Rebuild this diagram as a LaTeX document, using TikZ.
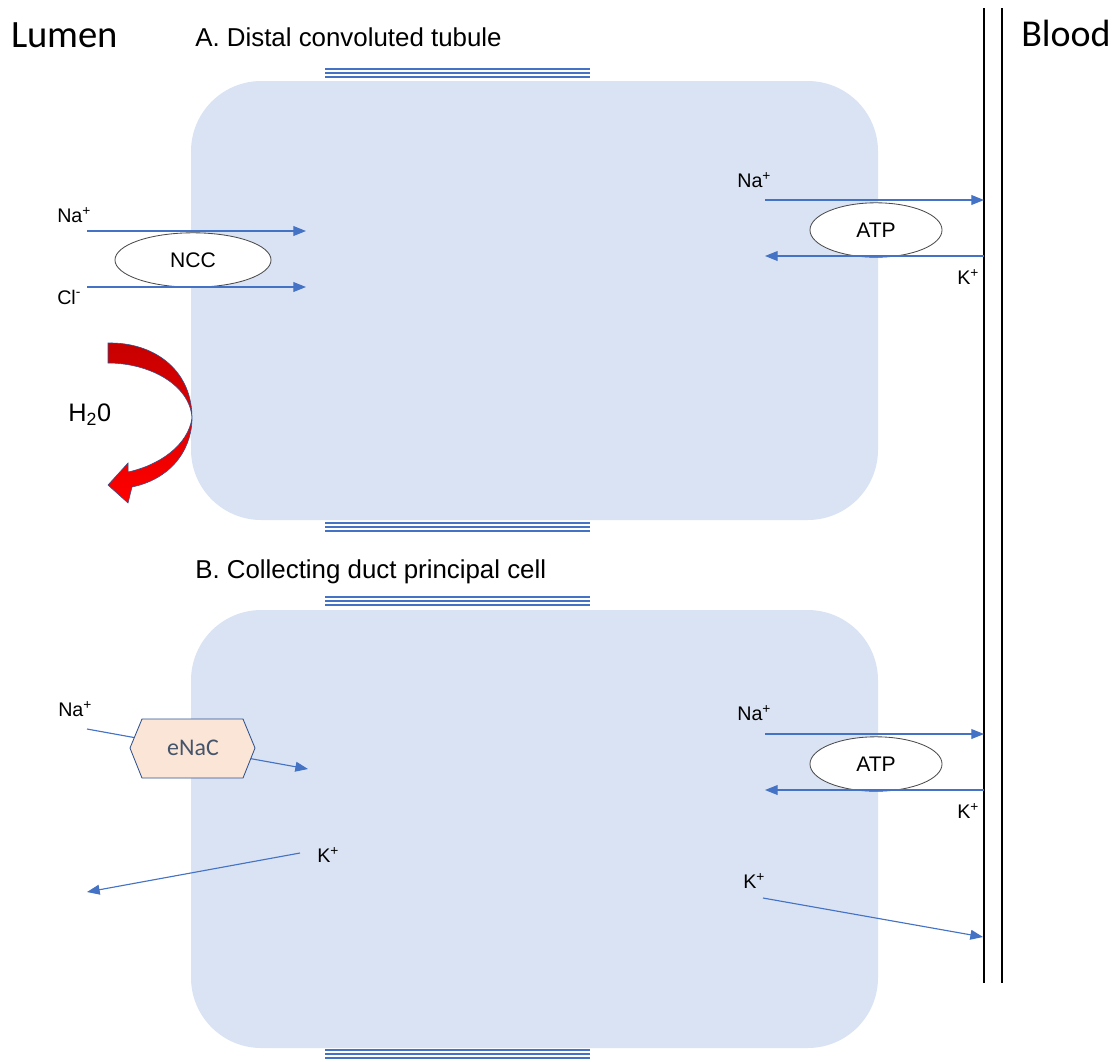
\documentclass[tikz,border=0pt]{standalone}
\usepackage{fontspec}
\setmainfont{Liberation Sans}
\newfontfamily\calibri{Carlito}
\usetikzlibrary{arrows.meta, shapes.geometric}
\definecolor{cellfill}{HTML}{DAE3F3}
\definecolor{ionblue}{HTML}{4472C4}
\definecolor{hexfill}{HTML}{FBE5D6}
\definecolor{hexline}{HTML}{2F528F}
\definecolor{hextext}{HTML}{44546A}

\begin{document}
\begin{tikzpicture}[x=0.025cm, y=-0.025cm, >={Triangle[length=9pt,width=7pt]},
  cell/.style={fill=cellfill, rounded corners=50pt},
  ion/.style={->, draw=ionblue, line width=0.8pt},
  tj/.style={draw=ionblue, line width=0.8pt},
  lbl/.style={inner sep=0pt, anchor=west, font=\fontsize{14}{16}\selectfont},
  pump/.style={ellipse, draw=black!70, fill=white, line width=0.6pt, inner sep=0pt,
    minimum height=1.36cm, font=\fontsize{15}{17}\selectfont}]
  \useasboundingbox (0,0) rectangle (1117,1061);
  % the two cells and their junctions
  \fill[cell] (191,81) rectangle (878,520);
  \fill[cell] (191,610) rectangle (878,1048);
  \foreach \y in {69,523,597,1050}
    \foreach \d in {0,4,8} \draw[tj] (325,\y+\d) -- (590,\y+\d);
  % basolateral membrane
  \draw[line width=1pt] (984,8) -- (984,983);
  \draw[line width=1pt] (1002,8) -- (1002,983);
  % headings
  \node[anchor=base west, inner sep=0pt, font=\calibri\fontsize{27.5}{31}\selectfont] (lumen) at (11,47) {Lumen};
  \node[anchor=base west, inner sep=0pt, font=\calibri\fontsize{27}{31}\selectfont] (blood) at (1021,46) {Blood};
  \node[anchor=base west, inner sep=0pt, font=\fontsize{18.4}{22}\selectfont] (titleA) at (195,46) {A. Distal convoluted tubule};
  \node[anchor=base west, inner sep=0pt, font=\fontsize{18.4}{22}\selectfont] (titleB) at (195,578) {B. Collecting duct principal cell};
  % A: NCC on the apical side, pump on the basolateral side
  \node[pump, minimum width=3.9cm] (ncc) at (193,260) {NCC};
  \node[pump, minimum width=3.3cm] (atpA) at (876,230) {ATP};
  \node[lbl] (naA) at (57,215) {Na\textsuperscript{+}};
  \node[lbl] (clA) at (57,297) {Cl\textsuperscript{-}};
  \node[lbl] (naApump) at (737,180) {Na\textsuperscript{+}};
  \node[lbl] (kApump) at (957,277) {K\textsuperscript{+}};
  \coordinate (naAs) at (87,231);  \coordinate (naAe) at (306,231);
  \coordinate (clAs) at (87,287);  \coordinate (clAe) at (306,287);
  \coordinate (naPs) at (765,200); \coordinate (naPe) at (984,200);
  \coordinate (kPs) at (984,256);  \coordinate (kPe) at (765,256);
  \draw[ion] (naAs) -- (naAe);
  \draw[ion] (clAs) -- (clAe);
  \draw[ion] (naPs) -- (naPe);
  \draw[ion] (kPs) -- (kPe);
  % water follows, red curved arrow
  \shade[draw=hexline, line width=0.4pt, top color=red!78!black, bottom color=red]
    (108,343) .. controls (152,342) and (191,368) .. (192,416)
    .. controls (193,445) and (175,478) .. (132,487)
    -- (128,503) -- (108,485) -- (128,463) -- (128,472)
    .. controls (160,465) and (188,445) .. (192,418)
    .. controls (190,385) and (150,363) .. (108,363) -- cycle;
  \node[anchor=west, inner sep=0pt, font=\fontsize{18}{20}\selectfont] (water) at (68,415) {H\textsubscript{2}0};
  % B: eNaC, ROMK and the pump
  \coordinate (naBs) at (87,729);  \coordinate (naBe) at (308,769);
  \coordinate (kLs) at (300,853);  \coordinate (kLe) at (87,892);
  \coordinate (kBs) at (763,898);  \coordinate (kBe) at (983,937);
  \coordinate (naQs) at (765,734); \coordinate (naQe) at (984,734);
  \coordinate (kQs) at (984,790);  \coordinate (kQe) at (765,790);
  \draw[ion] (naBs) -- (naBe);
  \filldraw[draw=hexline, fill=hexfill, line width=0.6pt]
    (130,748) -- (142,719) -- (243,719) -- (255,748) -- (243,778) -- (142,778) -- cycle;
  \node[text=hextext, font=\calibri\fontsize{17}{20}\selectfont] (enac) at (193,748) {eNaC};
  \node[pump, minimum width=3.3cm] (atpB) at (876,764) {ATP};
  \draw[ion] (naQs) -- (naQe);
  \draw[ion] (kQs) -- (kQe);
  \draw[ion] (kLs) -- (kLe);
  \draw[ion] (kBs) -- (kBe);
  \node[lbl] (naB) at (58,709) {Na\textsuperscript{+}};
  \node[lbl] (naBpump) at (737,713) {Na\textsuperscript{+}};
  \node[lbl] (kBpump) at (957,811) {K\textsuperscript{+}};
  \node[lbl] (kLumen) at (317,855) {K\textsuperscript{+}};
  \node[lbl] (kBlood) at (743,881) {K\textsuperscript{+}};
\end{tikzpicture}
\end{document}
